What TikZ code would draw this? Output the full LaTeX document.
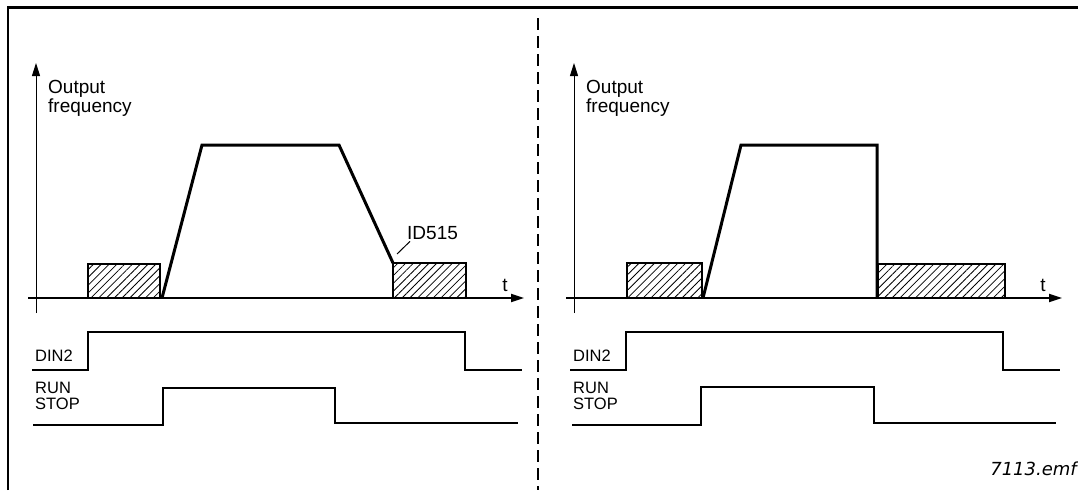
\documentclass[tikz,border=0pt]{standalone}
\usepackage{fontspec}
\setmainfont{Liberation Sans}
\newfontfamily\emffont{DejaVu Sans}
\usepackage{tikz}
\usetikzlibrary{arrows.meta, patterns.meta}

\begin{document}
\begin{tikzpicture}[
    x=1pt, y=-1pt,
    >={Triangle[width=8pt, length=13pt]},
    frame/.style={line width=2.5pt, line join=miter},
    divider/.style={line width=1.2pt, dash pattern=on 12pt off 6pt},
    yaxis/.style={->, line width=1pt},
    taxis/.style={->, line width=1.8pt},
    freq/.style={line width=3pt, line join=miter},
    hatchbox/.style={draw, line width=2pt, pattern={Lines[angle=45, distance=5.5pt, line width=0.8pt]}},
    sig/.style={line width=1.6pt},
    leader/.style={line width=1pt},
    axlbl/.style={inner sep=0pt, anchor=base west, align=left, font=\fontsize{19pt}{16pt}\selectfont},
    siglbl/.style={inner sep=0pt, anchor=base west, align=left, font=\fontsize{16.5pt}{16pt}\selectfont},
]
\useasboundingbox (0,0) rectangle (1078,490);

% ─── Frame and divider ───
\draw[frame] (8,490) -- (8,7.5) -- (1078,7.5);
\draw[divider] (538,18) -- (538,490);

% ─── Parts common to both panels ───
\foreach \off/\p in {0/L, 538/R} {
    \draw[yaxis] (36+\off,313) -- (36+\off,63);
    \node[axlbl] (ylab\p) at (48+\off,112) {Output\\[0pt]frequency};
    \node[font=\fontsize{19pt}{19pt}\selectfont, inner sep=0pt] (tlab\p) at (505+\off,285) {t};
    \node[siglbl] (din\p) at (35+\off,361) {DIN2};
    \node[siglbl] (run\p) at (35+\off,409) {RUN\\STOP};
    \draw[sig] (32+\off,370) -- (88+\off,370) -- (88+\off,332) -- (465+\off,332) -- (465+\off,370) -- (522+\off,370);
}

% ─── Left panel: ramp stop ───
\draw[hatchbox] (88,264) rectangle (160,298);
\draw[hatchbox] (393,263) rectangle (466,298);
\draw[freq] (162,298) -- (202,145) -- (339,145) -- (393,263);
\draw[taxis] (28,298) -- (524,298);

\node[axlbl] (id515) at (407,239) {ID515};
\coordinate (idfoot) at (397,254);
\draw[leader] (idfoot) -- ([xshift=3pt, yshift=-2pt]id515.south west);

\draw[sig] (33,425) -- (163,425) -- (163,388) -- (335,388) -- (335,423) -- (518,423);

% ─── Right panel: coast stop ───
\draw[hatchbox] (627,263) rectangle (702,298);
\draw[hatchbox] (878,264) rectangle (1005,298);
\draw[freq] (703,298) -- (741,145) -- (877,145) -- (877,298);
\draw[taxis] (566,298) -- (1062,298);

\draw[sig] (572,425) -- (701,425) -- (701,387) -- (874,387) -- (874,423) -- (1056,423);

\node[inner sep=0pt, anchor=base east, font=\emffont\fontsize{18pt}{18pt}\selectfont\itshape] (fig) at (1077,475) {7113.emf};

\end{tikzpicture}
\end{document}
